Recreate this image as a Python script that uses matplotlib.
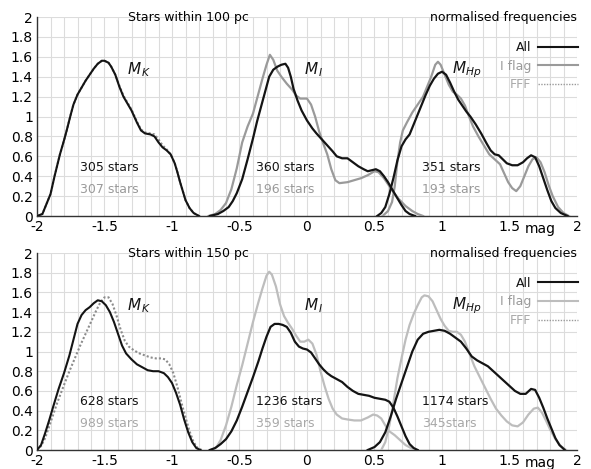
import matplotlib
matplotlib.use("Agg")
import matplotlib.pyplot as plt
from matplotlib.lines import Line2D
import numpy as np

plt.rcParams['font.family'] = ['DejaVu Sans']
plt.rcParams['axes.unicode_minus'] = False

# ---------------- data: top panel (stars within 100 pc) ----------------
top_mk_all_x = [-2.0, -1.96, -1.93, -1.90, -1.87, -1.83, -1.80, -1.78, -1.75, -1.73, -1.70, -1.67, -1.64, -1.61,
                -1.58, -1.55, -1.52, -1.50, -1.47, -1.45, -1.42, -1.39, -1.36, -1.33, -1.30, -1.26, -1.23, -1.20,
                -1.16, -1.13, -1.10, -1.07, -1.04, -1.01, -0.98, -0.96, -0.94, -0.92, -0.90, -0.87, -0.84, -0.80]
top_mk_all_y = [0.0, 0.02, 0.12, 0.22, 0.40, 0.62, 0.76, 0.86, 1.02, 1.12, 1.22, 1.29, 1.36, 1.42,
                1.48, 1.53, 1.56, 1.56, 1.54, 1.50, 1.42, 1.30, 1.20, 1.13, 1.06, 0.94, 0.86, 0.83,
                0.82, 0.80, 0.74, 0.69, 0.66, 0.62, 0.53, 0.44, 0.34, 0.25, 0.16, 0.08, 0.03, 0.0]
top_mk_fff_x = top_mk_all_x
top_mk_fff_y = [0.0, 0.02, 0.12, 0.22, 0.40, 0.62, 0.76, 0.86, 1.02, 1.12, 1.22, 1.29, 1.36, 1.42,
                1.48, 1.53, 1.56, 1.56, 1.54, 1.50, 1.42, 1.31, 1.21, 1.14, 1.07, 0.95, 0.87, 0.84,
                0.83, 0.82, 0.77, 0.71, 0.67, 0.62, 0.53, 0.44, 0.34, 0.25, 0.16, 0.08, 0.03, 0.0]

top_mi_all_x = [-0.72, -0.66, -0.62, -0.58, -0.55, -0.52, -0.48, -0.44, -0.40, -0.37, -0.34, -0.31, -0.28, -0.25,
                -0.22, -0.19, -0.16, -0.14, -0.12, -0.10, -0.07, -0.04, 0.00, 0.04, 0.07, 0.11, 0.15, 0.19,
                0.22, 0.26, 0.30, 0.34, 0.38, 0.42, 0.45, 0.48, 0.51, 0.54, 0.57, 0.60, 0.63, 0.66, 0.70,
                0.73, 0.76, 0.80]
top_mi_all_y = [0.0, 0.02, 0.05, 0.09, 0.15, 0.23, 0.37, 0.57, 0.78, 0.95, 1.10, 1.25, 1.40, 1.47,
                1.50, 1.52, 1.53, 1.49, 1.40, 1.28, 1.16, 1.06, 0.96, 0.88, 0.83, 0.77, 0.71, 0.65,
                0.60, 0.58, 0.58, 0.54, 0.50, 0.47, 0.45, 0.46, 0.47, 0.45, 0.40, 0.34, 0.27, 0.20, 0.11,
                0.05, 0.02, 0.0]
top_mi_flag_x = [-0.73, -0.68, -0.64, -0.60, -0.56, -0.52, -0.48, -0.44, -0.40, -0.37, -0.33, -0.30, -0.275, -0.25,
                 -0.22, -0.19, -0.15, -0.11, -0.08, -0.05, 0.00, 0.03, 0.06, 0.09, 0.12, 0.15, 0.18, 0.21,
                 0.24, 0.30, 0.35, 0.40, 0.45, 0.50, 0.53, 0.57, 0.60, 0.64, 0.68, 0.73, 0.78, 0.82, 0.86]
top_mi_flag_y = [0.0, 0.02, 0.06, 0.13, 0.27, 0.48, 0.74, 0.90, 1.03, 1.18, 1.38, 1.52, 1.62, 1.57,
                 1.46, 1.40, 1.33, 1.27, 1.21, 1.18, 1.18, 1.12, 1.00, 0.85, 0.73, 0.62, 0.47, 0.36,
                 0.33, 0.34, 0.36, 0.38, 0.41, 0.45, 0.44, 0.38, 0.32, 0.24, 0.17, 0.10, 0.05, 0.02, 0.0]

top_mhp_all_x = [0.52, 0.55, 0.58, 0.61, 0.64, 0.67, 0.70, 0.73, 0.76, 0.79, 0.82, 0.85, 0.88, 0.91, 0.94,
                 0.97, 1.00, 1.03, 1.06, 1.09, 1.12, 1.15, 1.18, 1.21, 1.25, 1.29, 1.33, 1.36, 1.39, 1.42,
                 1.45, 1.48, 1.52, 1.56, 1.60, 1.63, 1.66, 1.69, 1.72, 1.75, 1.78, 1.81, 1.84, 1.88, 1.93]
top_mhp_all_y = [0.0, 0.03, 0.09, 0.22, 0.38, 0.56, 0.70, 0.77, 0.82, 0.92, 1.02, 1.12, 1.22, 1.31, 1.38,
                 1.43, 1.45, 1.42, 1.34, 1.25, 1.17, 1.11, 1.05, 1.00, 0.92, 0.83, 0.73, 0.66, 0.62, 0.61,
                 0.57, 0.53, 0.51, 0.51, 0.54, 0.58, 0.61, 0.59, 0.50, 0.38, 0.26, 0.15, 0.08, 0.03, 0.0]
top_mhp_flag_x = [0.56, 0.60, 0.63, 0.65, 0.67, 0.69, 0.71, 0.74, 0.78, 0.82, 0.86, 0.89, 0.92, 0.95, 0.97,
                  0.99, 1.02, 1.05, 1.08, 1.11, 1.14, 1.17, 1.20, 1.23, 1.27, 1.31, 1.35, 1.39, 1.43, 1.46,
                  1.49, 1.52, 1.55, 1.58, 1.61, 1.64, 1.67, 1.70, 1.73, 1.76, 1.79, 1.82, 1.86, 1.90, 1.94]
top_mhp_flag_y = [0.0, 0.05, 0.14, 0.30, 0.55, 0.74, 0.86, 0.94, 1.04, 1.12, 1.20, 1.30, 1.40, 1.52, 1.55,
                  1.52, 1.42, 1.32, 1.25, 1.22, 1.18, 1.11, 1.00, 0.90, 0.80, 0.71, 0.62, 0.57, 0.52, 0.43,
                  0.34, 0.28, 0.25, 0.30, 0.40, 0.50, 0.57, 0.59, 0.54, 0.44, 0.31, 0.20, 0.09, 0.03, 0.0]

# ---------------- data: bottom panel (stars within 150 pc) ----------------
bot_mk_all_x = [-2.0, -1.97, -1.94, -1.91, -1.88, -1.84, -1.80, -1.76, -1.73, -1.70, -1.67, -1.64, -1.61, -1.58,
                -1.55, -1.52, -1.49, -1.46, -1.43, -1.40, -1.37, -1.34, -1.30, -1.26, -1.22, -1.18, -1.14,
                -1.10, -1.06, -1.03, -1.00, -0.97, -0.94, -0.91, -0.88, -0.85, -0.82, -0.79]
bot_mk_all_y = [0.0, 0.05, 0.17, 0.30, 0.44, 0.62, 0.78, 0.96, 1.12, 1.28, 1.37, 1.42, 1.45, 1.49,
                1.52, 1.51, 1.47, 1.40, 1.30, 1.18, 1.06, 0.98, 0.92, 0.87, 0.84, 0.81, 0.80,
                0.80, 0.78, 0.74, 0.68, 0.58, 0.46, 0.31, 0.18, 0.08, 0.02, 0.0]
bot_mk_fff_x = [-2.0, -1.97, -1.94, -1.90, -1.85, -1.80, -1.76, -1.72, -1.68, -1.64, -1.60, -1.56, -1.53, -1.50,
                -1.47, -1.44, -1.41, -1.38, -1.35, -1.32, -1.28, -1.24, -1.20, -1.16, -1.12, -1.08, -1.05,
                -1.02, -0.99, -0.96, -0.93, -0.90, -0.87, -0.84, -0.81, -0.78]
bot_mk_fff_y = [0.0, 0.04, 0.12, 0.28, 0.48, 0.66, 0.80, 0.93, 1.06, 1.18, 1.30, 1.42, 1.50, 1.55,
                1.55, 1.48, 1.36, 1.22, 1.11, 1.05, 1.01, 0.98, 0.96, 0.94, 0.93, 0.93, 0.92,
                0.87, 0.78, 0.64, 0.48, 0.33, 0.19, 0.08, 0.02, 0.0]

bot_mi_all_x = [-0.72, -0.68, -0.64, -0.60, -0.56, -0.52, -0.48, -0.44, -0.40, -0.36, -0.33, -0.30, -0.27, -0.24,
                -0.21, -0.18, -0.15, -0.12, -0.09, -0.06, -0.03, 0.00, 0.03, 0.06, 0.09, 0.12, 0.15, 0.18,
                0.22, 0.26, 0.30, 0.34, 0.38, 0.42, 0.46, 0.50, 0.54, 0.58, 0.61, 0.64, 0.67, 0.70, 0.73,
                0.76, 0.79, 0.82]
bot_mi_all_y = [0.0, 0.02, 0.06, 0.11, 0.19, 0.30, 0.44, 0.59, 0.74, 0.90, 1.03, 1.15, 1.25, 1.28,
                1.28, 1.27, 1.25, 1.19, 1.10, 1.05, 1.03, 1.02, 0.99, 0.93, 0.87, 0.82, 0.78, 0.75,
                0.72, 0.69, 0.64, 0.60, 0.57, 0.56, 0.55, 0.53, 0.52, 0.51, 0.49, 0.43, 0.34, 0.24, 0.14,
                0.06, 0.02, 0.0]
bot_mi_flag_x = [-0.71, -0.67, -0.64, -0.60, -0.56, -0.52, -0.48, -0.44, -0.40, -0.36, -0.33, -0.30, -0.28, -0.26,
                 -0.23, -0.20, -0.17, -0.14, -0.11, -0.08, -0.05, -0.02, 0.01, 0.04, 0.07, 0.10, 0.13, 0.16,
                 0.19, 0.22, 0.26, 0.30, 0.35, 0.40, 0.45, 0.49, 0.52, 0.55, 0.58, 0.61, 0.65, 0.69, 0.73,
                 0.77, 0.80]
bot_mi_flag_y = [0.0, 0.03, 0.10, 0.25, 0.44, 0.66, 0.86, 1.08, 1.30, 1.50, 1.64, 1.77, 1.81, 1.78,
                 1.66, 1.48, 1.36, 1.29, 1.23, 1.16, 1.10, 1.10, 1.12, 1.08, 0.97, 0.80, 0.65, 0.52,
                 0.42, 0.36, 0.32, 0.31, 0.30, 0.30, 0.33, 0.36, 0.35, 0.32, 0.25, 0.19, 0.15, 0.10, 0.05,
                 0.02, 0.0]

bot_mhp_all_x = [0.45, 0.50, 0.54, 0.58, 0.62, 0.66, 0.70, 0.74, 0.78, 0.82, 0.86, 0.90, 0.94, 0.98, 1.02,
                 1.06, 1.10, 1.14, 1.18, 1.22, 1.26, 1.30, 1.34, 1.38, 1.42, 1.46, 1.50, 1.54, 1.58, 1.62,
                 1.66, 1.69, 1.72, 1.75, 1.78, 1.81, 1.84, 1.87, 1.91]
bot_mhp_all_y = [0.0, 0.03, 0.08, 0.18, 0.34, 0.52, 0.68, 0.84, 1.00, 1.12, 1.18, 1.20, 1.21, 1.22, 1.21,
                 1.18, 1.14, 1.10, 1.03, 0.95, 0.91, 0.88, 0.85, 0.80, 0.75, 0.70, 0.65, 0.60, 0.57, 0.57,
                 0.62, 0.61, 0.53, 0.43, 0.32, 0.22, 0.12, 0.05, 0.0]
bot_mhp_flag_x = [0.55, 0.58, 0.61, 0.64, 0.67, 0.70, 0.73, 0.76, 0.79, 0.82, 0.85, 0.87, 0.90, 0.93, 0.96,
                  0.99, 1.02, 1.05, 1.08, 1.11, 1.14, 1.17, 1.20, 1.24, 1.28, 1.32, 1.36, 1.40, 1.44, 1.48,
                  1.52, 1.56, 1.60, 1.64, 1.68, 1.71, 1.74, 1.77, 1.80, 1.84, 1.88, 1.92]
bot_mhp_flag_y = [0.0, 0.08, 0.25, 0.48, 0.73, 0.93, 1.12, 1.27, 1.38, 1.47, 1.55, 1.57, 1.56, 1.51, 1.42,
                  1.33, 1.26, 1.21, 1.20, 1.20, 1.17, 1.10, 0.99, 0.85, 0.74, 0.63, 0.52, 0.42, 0.35, 0.29,
                  0.25, 0.24, 0.28, 0.36, 0.42, 0.43, 0.38, 0.30, 0.21, 0.11, 0.04, 0.0]

# texts
panel_titles = ["Stars within 100 pc", "Stars within 150 pc"]
top_counts_all = ["305 stars", "360 stars", "351 stars"]
top_counts_sub = ["307 stars", "196 stars", "193 stars"]
bot_counts_all = ["628 stars", "1236 stars", "1174 stars"]
bot_counts_sub = ["989 stars", "359 stars", "345stars"]
band_labels = [r"$M_{\,K}$", r"$M_{\,I}$", r"$M_{Hp}$"]
band_label_x = [-1.24, 0.05, 1.18]
count_x = [-1.68, -0.38, 0.85]
legend_labels = ["All", "I flag", "FFF"]
x_ticks = [-2, -1.5, -1, -0.5, 0, 0.5, 1, 1.5, 2]
x_tick_labels = ["-2", "-1.5", "-1", "-0.5", "0", "0.5", "1", "1.5", "2"]
y_ticks = [0, 0.2, 0.4, 0.6, 0.8, 1.0, 1.2, 1.4, 1.6, 1.8, 2.0]
y_tick_labels = ["0", "0.2", "0.4", "0.6", "0.8", "1", "1.2", "1.4", "1.6", "1.8", "2"]

BLACK = "#141414"
FS = 9

fig = plt.figure(figsize=(5.91, 4.69), dpi=100)
ax_top = fig.add_axes([37 / 591, 1 - 216 / 469, 540 / 591, 199 / 469])
ax_bot = fig.add_axes([37 / 591, 1 - 450 / 469, 540 / 591, 197 / 469])

panels = [
    dict(ax=ax_top, title=panel_titles[0], sub_color="#9a9a9a", flag_color="#9a9a9a",
         mk=(top_mk_all_x, top_mk_all_y, top_mk_fff_x, top_mk_fff_y),
         mi=(top_mi_all_x, top_mi_all_y, top_mi_flag_x, top_mi_flag_y),
         mhp=(top_mhp_all_x, top_mhp_all_y, top_mhp_flag_x, top_mhp_flag_y),
         c_all=top_counts_all, c_sub=top_counts_sub),
    dict(ax=ax_bot, title=panel_titles[1], sub_color="#a8a8a8", flag_color="#bdbdbd",
         mk=(bot_mk_all_x, bot_mk_all_y, bot_mk_fff_x, bot_mk_fff_y),
         mi=(bot_mi_all_x, bot_mi_all_y, bot_mi_flag_x, bot_mi_flag_y),
         mhp=(bot_mhp_all_x, bot_mhp_all_y, bot_mhp_flag_x, bot_mhp_flag_y),
         c_all=bot_counts_all, c_sub=bot_counts_sub),
]

for p in panels:
    ax = p["ax"]
    ax.set_xlim(-2, 2)
    ax.set_ylim(0, 2)
    ax.set_xticks(x_ticks)
    ax.set_xticklabels(x_tick_labels, fontsize=FS + 1)
    ax.set_yticks(y_ticks)
    ax.set_yticklabels(y_tick_labels, fontsize=FS + 1)
    ax.set_xticks(np.arange(-2, 2.001, 0.1), minor=True)
    ax.tick_params(which="both", length=0, pad=3)
    ax.grid(which="major", axis="y", color="#dcdcdc", lw=0.8)
    ax.grid(which="both", axis="x", color="#dcdcdc", lw=0.8)
    ax.set_axisbelow(True)
    for s in ["top", "right"]:
        ax.spines[s].set_visible(False)
    for s in ["left", "bottom"]:
        ax.spines[s].set_color("#333333")
        ax.spines[s].set_linewidth(1.0)

    mk_x, mk_y, fff_x, fff_y = p["mk"]
    ax.plot(fff_x, fff_y, color="#8c8c8c", lw=1.5, ls=(0, (1, 1)), zorder=3)
    ax.plot(mk_x, mk_y, color=BLACK, lw=1.5, zorder=4)
    for key in ["mi", "mhp"]:
        ax_x, ax_y, fl_x, fl_y = p[key]
        ax.plot(fl_x, fl_y, color=p["flag_color"], lw=1.6, zorder=3)
        ax.plot(ax_x, ax_y, color=BLACK, lw=1.6, zorder=4)

    ax.text(-0.88, 2.0, p["title"], ha="center", va="center", fontsize=FS)
    ax.text(2.0, 2.0, "normalised frequencies", ha="right", va="center", fontsize=FS)
    for lbl, bx in zip(band_labels, band_label_x):
        ax.text(bx, 1.47, lbl, ha="center", va="center", fontsize=FS + 2, color=BLACK)
    for ca, cs, cx in zip(p["c_all"], p["c_sub"], count_x):
        ax.text(cx, 0.49, ca, ha="left", va="center", fontsize=FS, color=BLACK)
        ax.text(cx, 0.27, cs, ha="left", va="center", fontsize=FS, color=p["sub_color"])
    ax.text(1.73, -0.06, "mag", ha="center", va="top", fontsize=FS + 1)

    handles = [Line2D([], [], color=BLACK, lw=1.5),
               Line2D([], [], color=p["flag_color"], lw=1.5),
               Line2D([], [], color="#9a9a9a", lw=1.0, ls=(0, (1, 1)))]
    ax.legend(handles, legend_labels, loc="upper right", bbox_to_anchor=(1.012, 0.905),
              frameon=False, markerfirst=False, fontsize=FS, handlelength=3.2,
              handletextpad=0.6, labelspacing=0.45, borderaxespad=0,
              labelcolor=[BLACK, "#9a9a9a", "#a8a8a8"])

fig.savefig("out.png", dpi=100)
